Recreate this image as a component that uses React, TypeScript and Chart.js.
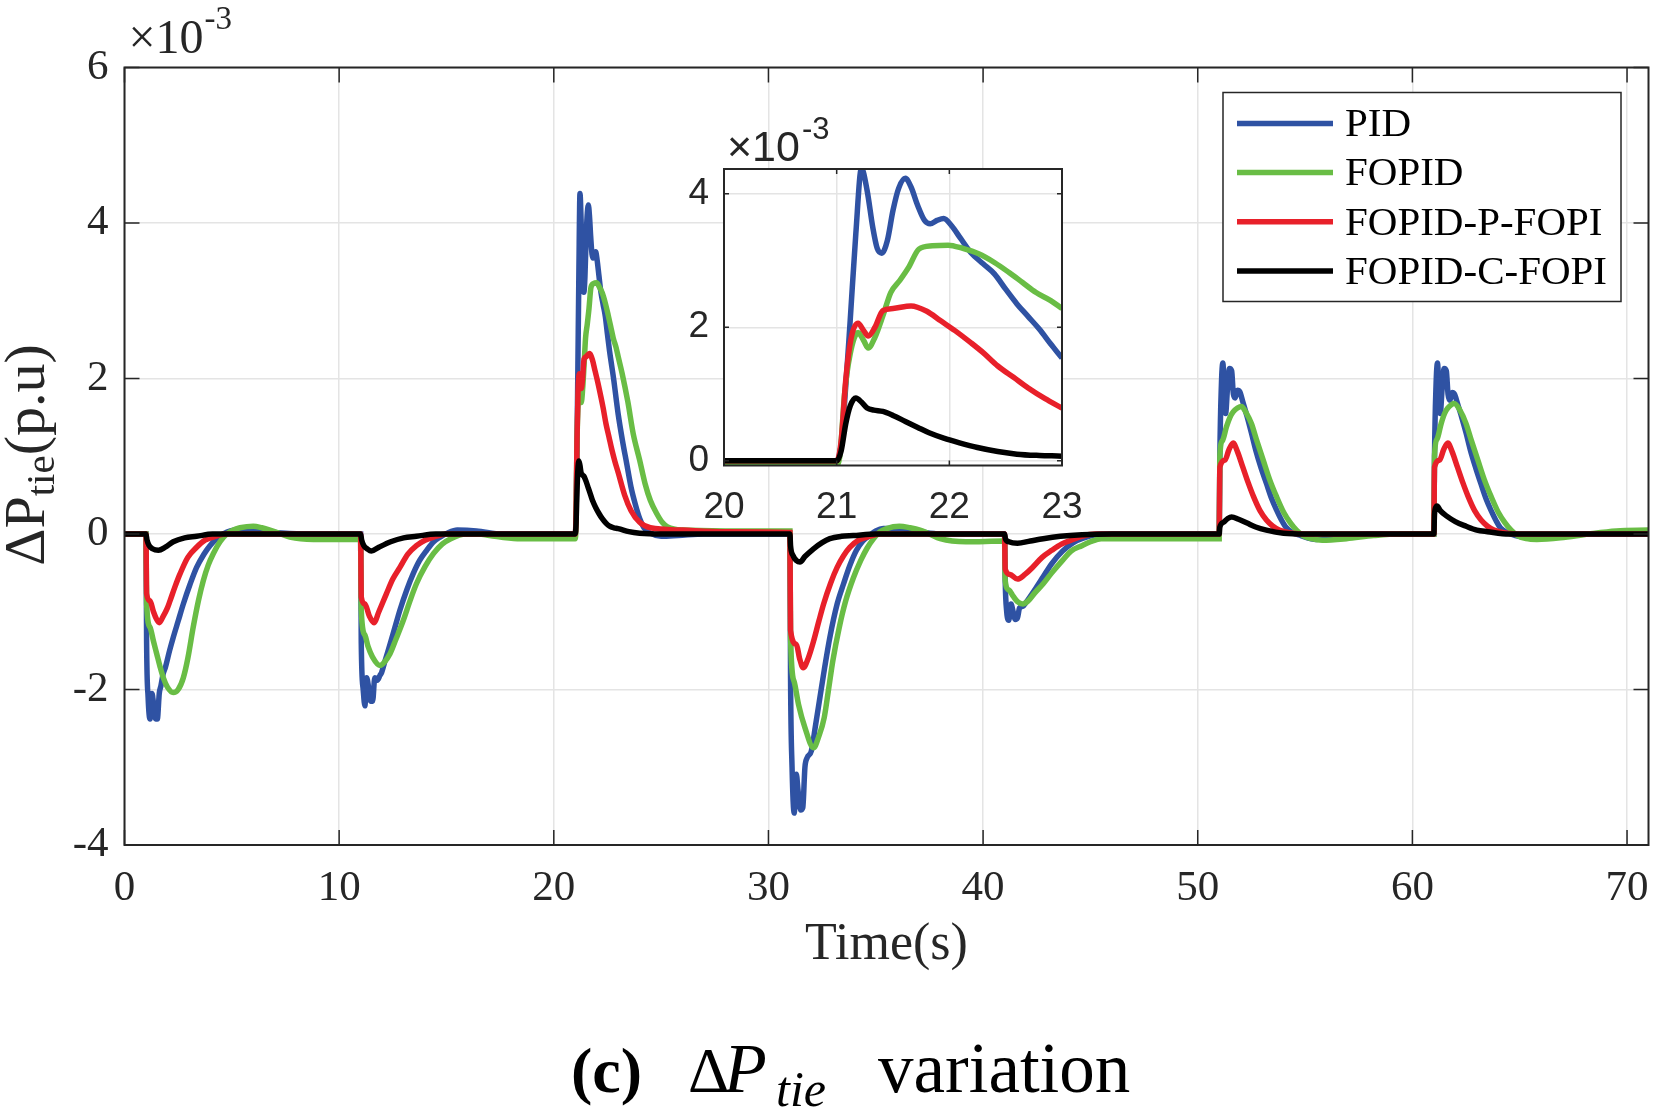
import React, { useEffect, useRef } from 'react';
import { Chart, registerables } from 'chart.js';

Chart.register(...registerables);

const W = 1654;
const H = 1112;

// ---------- data (values in units of 1e-3 p.u., time in s) ----------
const SERIES_LABELS = ['PID', 'FOPID', 'FOPID-P-FOPI', 'FOPID-C-FOPI'];
const SERIES_COLORS = ['#2F52A3', '#69BD45', '#E8202A', '#000000'];

const PID_DATA: [number, number][] = [
  [0, 0], [1.0, 0], [1.03, -1.4], [1.1, -2.1], [1.19, -2.38], [1.28, -2.05], [1.36, -2.2], [1.45, -2.38], [1.53, -2.38], [1.62, -2.05], [1.7, -1.95], [1.8, -1.8], [1.9, -1.72], [2.1, -1.5], [2.27, -1.33], [2.5, -1.12], [2.74, -0.9], [3.05, -0.65], [3.36, -0.43], [3.7, -0.26], [3.98, -0.15], [4.3, -0.06], [4.6, 0], [5.2, 0.05], [6.0, 0.04], [7.0, 0.02], [8.5, 0], [11.0, 0],
  [11.03, -1.4], [11.12, -2.0], [11.2, -2.21], [11.28, -1.85], [11.36, -1.95], [11.46, -2.15], [11.56, -2.15], [11.66, -1.85], [11.78, -1.88], [11.9, -1.82], [11.98, -1.78], [12.15, -1.62], [12.37, -1.42], [12.6, -1.2], [12.83, -0.98], [13.15, -0.72], [13.45, -0.51], [13.75, -0.34], [14.08, -0.21], [14.4, -0.1], [14.7, -0.04], [15.1, 0.02], [15.5, 0.05], [16.4, 0.04], [17.6, 0], [21.0, 0],
  [21.04, 0.25], [21.08, 1.1], [21.12, 2.1], [21.17, 3.4], [21.22, 4.38], [21.27, 4.05], [21.32, 3.5], [21.36, 3.18], [21.4, 3.11], [21.45, 3.3], [21.5, 3.75], [21.55, 4.08], [21.61, 4.23], [21.66, 4.1], [21.72, 3.82], [21.78, 3.6], [21.83, 3.55], [21.89, 3.6], [21.95, 3.63], [22.02, 3.52], [22.1, 3.33], [22.19, 3.12], [22.3, 2.95], [22.4, 2.8], [22.5, 2.57], [22.6, 2.35], [22.7, 2.16], [22.8, 1.97], [22.9, 1.75], [23.0, 1.54], [23.2, 1.2], [23.4, 0.9], [23.6, 0.6], [23.8, 0.38], [24.0, 0.2], [24.2, 0.08], [24.5, 0.01], [25.0, -0.03], [25.8, -0.02], [27.0, 0], [31.0, 0],
  [31.03, -1.85], [31.1, -3.0], [31.2, -3.59], [31.3, -3.09], [31.38, -3.3], [31.5, -3.55], [31.6, -3.52], [31.7, -3.0], [31.8, -2.88], [32.0, -2.79], [32.2, -2.45], [32.4, -2.1], [32.6, -1.75], [32.86, -1.33], [33.2, -0.9], [33.5, -0.64], [33.8, -0.4], [34.1, -0.21], [34.4, -0.09], [34.7, -0.02], [35.0, 0.04], [35.35, 0.07], [36.1, 0.07], [37.06, 0.03], [38.0, 0], [41.0, 0],
  [41.03, -0.6], [41.1, -1.0], [41.2, -1.11], [41.3, -0.9], [41.4, -1.0], [41.5, -1.1], [41.6, -1.08], [41.7, -0.95], [41.85, -0.93], [42.0, -0.88], [42.4, -0.72], [42.8, -0.55], [43.2, -0.38], [43.7, -0.22], [44.2, -0.11], [44.6, -0.06], [45.5, 0], [51.0, 0],
  [51.03, 1.0], [51.1, 1.9], [51.17, 2.2], [51.24, 1.8], [51.3, 1.55], [51.38, 1.85], [51.48, 2.13], [51.58, 2.1], [51.66, 1.8], [51.75, 1.75], [51.85, 1.85], [51.96, 1.83], [52.1, 1.7], [52.3, 1.51], [52.5, 1.3], [52.7, 1.08], [52.95, 0.85], [53.2, 0.65], [53.45, 0.45], [53.67, 0.31], [53.9, 0.18], [54.1, 0.09], [54.4, 0.02], [54.8, -0.02], [55.5, -0.07], [56.6, -0.04], [57.9, 0], [61.0, 0],
  [61.03, 1.0], [61.1, 1.9], [61.17, 2.2], [61.24, 1.8], [61.3, 1.55], [61.38, 1.85], [61.48, 2.13], [61.58, 2.1], [61.66, 1.8], [61.75, 1.72], [61.85, 1.82], [61.96, 1.8], [62.1, 1.68], [62.3, 1.5], [62.5, 1.3], [62.7, 1.08], [62.95, 0.85], [63.2, 0.64], [63.45, 0.44], [63.67, 0.3], [63.9, 0.17], [64.1, 0.08], [64.4, 0.02], [64.8, -0.02], [65.5, -0.05], [66.6, -0.03], [68.0, 0], [71.0, 0],
];

const FOPID_DATA: [number, number][] = [
  [0, 0], [1.0, 0], [1.03, -0.9], [1.19, -1.2], [1.35, -1.38], [1.5, -1.54], [1.65, -1.7], [1.81, -1.85], [2.0, -1.97], [2.27, -2.04], [2.5, -2.0], [2.74, -1.85], [2.95, -1.6], [3.2, -1.2], [3.45, -0.85], [3.67, -0.6], [3.9, -0.4], [4.14, -0.25], [4.45, -0.1], [4.76, 0], [5.05, 0.05], [5.38, 0.08], [6.0, 0.1], [6.4, 0.08], [6.78, 0.05], [7.2, 0.01], [7.7, -0.04], [8.8, -0.07], [11.0, -0.07],
  [11.03, -0.98], [11.2, -1.3], [11.35, -1.45], [11.55, -1.58], [11.9, -1.69], [12.1, -1.65], [12.37, -1.54], [12.65, -1.35], [12.99, -1.11], [13.3, -0.86], [13.6, -0.64], [14.0, -0.42], [14.4, -0.25], [14.8, -0.13], [15.2, -0.06], [15.9, 0], [16.5, 0], [17.0, -0.02], [18.3, -0.06], [21.0, -0.06],
  [21.03, 0.1], [21.07, 1.0], [21.12, 1.6], [21.19, 1.92], [21.24, 1.8], [21.28, 1.69], [21.34, 1.85], [21.41, 2.17], [21.48, 2.52], [21.56, 2.7], [21.64, 2.9], [21.73, 3.17], [21.85, 3.22], [21.99, 3.23], [22.12, 3.18], [22.26, 3.1], [22.4, 2.97], [22.53, 2.82], [22.65, 2.67], [22.77, 2.52], [22.9, 2.4], [23.0, 2.28], [23.18, 2.07], [23.45, 1.7], [23.7, 1.29], [24.0, 0.95], [24.25, 0.65], [24.5, 0.43], [24.8, 0.26], [25.05, 0.15], [25.3, 0.09], [26.0, 0.05], [28.0, 0.04], [31.0, 0.04],
  [31.03, -1.33], [31.2, -1.9], [31.4, -2.19], [31.7, -2.49], [32.1, -2.75], [32.35, -2.6], [32.6, -2.36], [32.8, -2.0], [33.0, -1.63], [33.3, -1.2], [33.6, -0.86], [33.95, -0.57], [34.3, -0.34], [34.6, -0.18], [34.9, -0.06], [35.2, 0.03], [35.5, 0.07], [36.1, 0.1], [36.6, 0.08], [37.06, 0.05], [37.5, 0], [38.0, -0.06], [39.2, -0.1], [41.0, -0.09],
  [41.03, -0.6], [41.2, -0.72], [41.4, -0.8], [41.6, -0.87], [41.85, -0.9], [42.1, -0.86], [42.4, -0.76], [42.8, -0.64], [43.2, -0.5], [43.7, -0.34], [44.1, -0.22], [44.6, -0.15], [45.0, -0.1], [45.5, -0.06], [51.0, -0.06],
  [51.03, 1.0], [51.15, 1.2], [51.34, 1.38], [51.5, 1.5], [51.65, 1.57], [51.85, 1.62], [52.04, 1.64], [52.25, 1.56], [52.5, 1.42], [52.75, 1.2], [53.05, 0.95], [53.35, 0.7], [53.67, 0.48], [54.0, 0.28], [54.3, 0.15], [54.6, 0.05], [54.9, -0.02], [55.3, -0.06], [55.8, -0.08], [56.93, -0.06], [58.2, -0.02], [59.4, 0], [61.0, 0],
  [61.03, 1.0], [61.15, 1.22], [61.34, 1.42], [61.5, 1.55], [61.65, 1.62], [61.95, 1.68], [62.2, 1.6], [62.5, 1.42], [62.75, 1.2], [63.05, 0.95], [63.35, 0.7], [63.67, 0.48], [64.0, 0.28], [64.3, 0.15], [64.6, 0.05], [64.9, -0.02], [65.3, -0.06], [65.8, -0.07], [66.9, -0.05], [68.2, 0], [69.5, 0.04], [71.0, 0.05],
];

const FOPID_P_FOPI_DATA: [number, number][] = [
  [0, 0], [1.0, 0], [1.03, -0.77], [1.19, -0.86], [1.35, -1.0], [1.5, -1.1], [1.62, -1.14], [1.8, -1.06], [2.0, -0.95], [2.12, -0.86], [2.35, -0.68], [2.59, -0.51], [2.95, -0.3], [3.36, -0.17], [3.75, -0.08], [4.14, -0.04], [4.7, 0], [11.0, 0],
  [11.03, -0.81], [11.2, -0.9], [11.4, -1.05], [11.62, -1.14], [11.85, -1.0], [12.2, -0.77], [12.5, -0.58], [12.83, -0.43], [13.2, -0.26], [13.6, -0.15], [14.0, -0.08], [14.4, -0.04], [15.0, 0], [21.0, 0],
  [21.04, 0.3], [21.08, 1.2], [21.13, 1.85], [21.19, 2.06], [21.24, 1.95], [21.28, 1.87], [21.34, 2.0], [21.41, 2.25], [21.5, 2.28], [21.66, 2.32], [21.8, 2.24], [21.92, 2.1], [22.05, 1.95], [22.19, 1.77], [22.3, 1.62], [22.43, 1.42], [22.57, 1.25], [22.7, 1.09], [22.85, 0.93], [23.0, 0.79], [23.3, 0.5], [23.6, 0.3], [24.0, 0.15], [24.5, 0.08], [26.0, 0.05], [28.0, 0.03], [31.0, 0.02],
  [31.03, -1.24], [31.3, -1.42], [31.45, -1.6], [31.62, -1.72], [31.85, -1.6], [32.1, -1.38], [32.35, -1.12], [32.57, -0.9], [32.9, -0.63], [33.2, -0.43], [33.5, -0.28], [33.8, -0.17], [34.2, -0.08], [34.6, -0.04], [35.2, 0], [41.0, 0],
  [41.03, -0.45], [41.25, -0.52], [41.6, -0.58], [41.95, -0.52], [42.3, -0.43], [42.75, -0.3], [43.2, -0.21], [43.65, -0.13], [44.1, -0.08], [44.6, -0.03], [45.2, 0], [51.0, 0],
  [51.03, 0.86], [51.27, 0.95], [51.45, 1.08], [51.65, 1.17], [51.85, 1.06], [52.1, 0.86], [52.35, 0.66], [52.6, 0.48], [52.9, 0.3], [53.2, 0.18], [53.5, 0.1], [53.8, 0.05], [54.4, 0.01], [55.0, 0], [61.0, 0],
  [61.03, 0.86], [61.27, 0.95], [61.45, 1.08], [61.65, 1.17], [61.85, 1.06], [62.1, 0.86], [62.35, 0.66], [62.6, 0.48], [62.9, 0.3], [63.2, 0.18], [63.5, 0.1], [63.8, 0.05], [64.4, 0.01], [65.0, 0], [71.0, 0],
];

const FOPID_C_FOPI_DATA: [number, number][] = [
  [0, 0], [1.0, 0], [1.05, -0.08], [1.15, -0.15], [1.3, -0.19], [1.58, -0.21], [1.9, -0.17], [2.27, -0.1], [2.8, -0.05], [3.36, -0.03], [4.1, 0], [11.0, 0],
  [11.05, -0.08], [11.15, -0.15], [11.3, -0.19], [11.5, -0.22], [11.85, -0.17], [12.4, -0.1], [13.0, -0.05], [13.6, -0.03], [14.5, 0], [21.0, 0],
  [21.04, 0.15], [21.08, 0.55], [21.12, 0.82], [21.17, 0.94], [21.22, 0.88], [21.27, 0.79], [21.33, 0.76], [21.41, 0.74], [21.5, 0.68], [21.61, 0.59], [21.72, 0.5], [21.82, 0.42], [21.95, 0.34], [22.09, 0.27], [22.25, 0.2], [22.43, 0.14], [22.6, 0.1], [22.8, 0.08], [23.0, 0.07], [23.5, 0.03], [24.0, 0.01], [25.0, 0], [31.0, 0],
  [31.03, -0.15], [31.15, -0.28], [31.3, -0.34], [31.47, -0.36], [31.7, -0.29], [32.1, -0.19], [32.5, -0.11], [32.86, -0.06], [33.4, -0.03], [33.95, -0.02], [35.0, 0], [41.0, 0],
  [41.04, -0.06], [41.2, -0.1], [41.6, -0.12], [42.2, -0.09], [42.8, -0.06], [43.6, -0.03], [44.6, -0.01], [46.0, 0], [51.0, 0],
  [51.03, 0.09], [51.2, 0.15], [51.4, 0.2], [51.58, 0.22], [51.9, 0.19], [52.3, 0.14], [52.7, 0.09], [53.2, 0.05], [54.0, 0.01], [55.0, 0], [61.0, 0],
  [61.03, 0.25], [61.1, 0.35], [61.15, 0.36], [61.3, 0.3], [61.6, 0.23], [62.0, 0.16], [62.5, 0.1], [63.0, 0.05], [63.5, 0.03], [64.5, 0], [71.0, 0],
];

const SERIES_DATA = [PID_DATA, FOPID_DATA, FOPID_P_FOPI_DATA, FOPID_C_FOPI_DATA];

const X_TICKS = [0, 10, 20, 30, 40, 50, 60, 70];
const Y_TICKS = [-4, -2, 0, 2, 4, 6];
const X_RANGE = [0, 71];
const Y_RANGE = [-4, 6];

const INSET_X_TICKS = [20, 21, 22, 23];
const INSET_Y_TICKS = [0, 2, 4];
const INSET_X_RANGE = [20, 23];
const INSET_Y_RANGE = [-0.07, 4.37];

// ---------- styling ----------
const AXIS_COLOR = '#262626';
const GRID_COLOR = '#E4E4E4';
const SERIF = '"Liberation Serif", "Times New Roman", serif';
const SANS = '"Liberation Sans", Arial, sans-serif';

const fixTicks = (vals: number[]) => (s: any) => {
  s.ticks = vals.map((v) => ({ value: v }));
};

function drawInwardTicks(ctx: CanvasRenderingContext2D, chart: any, xt: number[], yt: number[], len: number) {
  const a = chart.chartArea;
  const xs = chart.scales.x;
  const ys = chart.scales.y;
  ctx.beginPath();
  xt.forEach((v) => {
    const p = xs.getPixelForValue(v);
    ctx.moveTo(p, a.bottom);
    ctx.lineTo(p, a.bottom - len);
    ctx.moveTo(p, a.top);
    ctx.lineTo(p, a.top + len);
  });
  yt.forEach((v) => {
    const p = ys.getPixelForValue(v);
    ctx.moveTo(a.left, p);
    ctx.lineTo(a.left + len, p);
    ctx.moveTo(a.right, p);
    ctx.lineTo(a.right - len, p);
  });
  ctx.stroke();
}

const mainDecor = {
  id: 'mainDecor',
  afterDatasetsDraw(chart: any) {
    const ctx: CanvasRenderingContext2D = chart.ctx;
    const a = chart.chartArea;
    ctx.save();
    ctx.strokeStyle = AXIS_COLOR;
    ctx.lineWidth = 1.5;
    drawInwardTicks(ctx, chart, X_TICKS, Y_TICKS, 15);
    ctx.lineWidth = 2;
    ctx.strokeRect(a.left, a.top, a.right - a.left, a.bottom - a.top);
    ctx.restore();
  },
  afterDraw(chart: any) {
    const ctx: CanvasRenderingContext2D = chart.ctx;
    const a = chart.chartArea;
    ctx.save();
    ctx.fillStyle = AXIS_COLOR;
    ctx.textAlign = 'left';
    ctx.textBaseline = 'alphabetic';

    // exponent label
    ctx.font = `48px ${SERIF}`;
    ctx.fillText('\u00D710', a.left + 4, 53);
    const ew = ctx.measureText('\u00D710').width;
    ctx.font = `33px ${SERIF}`;
    ctx.fillText('-3', a.left + 4 + ew + 1, 29);

    // x axis title
    ctx.font = `52px ${SERIF}`;
    ctx.textAlign = 'center';
    ctx.fillText('Time(s)', (a.left + a.right) / 2, 959);

    // y axis title (rotated)
    ctx.save();
    ctx.translate(44, 455);
    ctx.rotate(-Math.PI / 2);
    ctx.textAlign = 'left';
    const big = `58px ${SERIF}`;
    const small = `41px ${SERIF}`;
    ctx.font = big;
    const w1 = ctx.measureText('\u0394P').width;
    const w3 = ctx.measureText('(p.u)').width;
    ctx.font = small;
    const w2 = ctx.measureText('tie').width;
    let x = -(w1 + w2 + w3) / 2;
    ctx.font = big;
    ctx.fillText('\u0394P', x, 0);
    x += w1;
    ctx.font = small;
    ctx.fillText('tie', x, 10);
    x += w2;
    ctx.font = big;
    ctx.fillText('(p.u)', x, 0);
    ctx.restore();

    // legend
    const lx = 1223, ly = 92.5, lw = 398, lh = 209;
    ctx.fillStyle = '#FFFFFF';
    ctx.fillRect(lx, ly, lw, lh);
    ctx.strokeStyle = AXIS_COLOR;
    ctx.lineWidth = 1.5;
    ctx.strokeRect(lx, ly, lw, lh);
    const rows = [123.5, 172.5, 221.8, 271];
    ctx.font = `41px ${SERIF}`;
    ctx.textAlign = 'left';
    ctx.textBaseline = 'middle';
    SERIES_LABELS.forEach((lab, i) => {
      ctx.strokeStyle = SERIES_COLORS[i];
      ctx.lineWidth = 5.5;
      ctx.beginPath();
      ctx.moveTo(1237, rows[i]);
      ctx.lineTo(1333, rows[i]);
      ctx.stroke();
      ctx.fillStyle = '#000000';
      ctx.fillText(lab, 1345, rows[i] + 2);
    });

    // caption
    ctx.textBaseline = 'alphabetic';
    ctx.fillStyle = '#000000';
    ctx.font = `bold 64px ${SERIF}`;
    ctx.fillText('(c)', 571, 1092);
    ctx.font = `64px ${SERIF}`;
    ctx.fillText('\u0394', 688, 1092);
    ctx.font = `italic 70px ${SERIF}`;
    ctx.fillText('P', 724, 1092);
    ctx.font = `italic 50px ${SERIF}`;
    ctx.fillText('tie', 776, 1106);
    ctx.font = `71px ${SERIF}`;
    ctx.fillText('variation', 878, 1092);
    ctx.restore();
  },
};

const insetDecor = {
  id: 'insetDecor',
  beforeDraw(chart: any) {
    const ctx: CanvasRenderingContext2D = chart.ctx;
    const a = chart.chartArea;
    ctx.save();
    ctx.fillStyle = '#FFFFFF';
    ctx.fillRect(a.left, a.top, a.right - a.left, a.bottom - a.top);
    ctx.restore();
  },
  afterDraw(chart: any) {
    const ctx: CanvasRenderingContext2D = chart.ctx;
    const a = chart.chartArea;
    ctx.save();
    ctx.strokeStyle = AXIS_COLOR;
    ctx.lineWidth = 1.5;
    drawInwardTicks(ctx, chart, INSET_X_TICKS, INSET_Y_TICKS, 5);
    ctx.lineWidth = 2;
    ctx.strokeRect(a.left, a.top, a.right - a.left, a.bottom - a.top);
    ctx.fillStyle = AXIS_COLOR;
    ctx.textAlign = 'left';
    ctx.textBaseline = 'alphabetic';
    ctx.font = `43px ${SANS}`;
    ctx.fillText('\u00D710', a.left + 3, 161);
    const ew = ctx.measureText('\u00D710').width;
    ctx.font = `31px ${SANS}`;
    ctx.fillText('-3', a.left + 3 + ew + 2, 139);
    ctx.restore();
  },
};

function makeDatasets(width: number) {
  return SERIES_DATA.map((d, i) => ({
    label: SERIES_LABELS[i],
    data: d,
    borderColor: SERIES_COLORS[i],
    backgroundColor: SERIES_COLORS[i],
    borderWidth: width,
    pointRadius: 0,
    fill: false,
    cubicInterpolationMode: 'monotone' as const,
    order: SERIES_DATA.length - i,
    clip: 0,
  }));
}

function axisOpts(kind: 'x' | 'y', range: number[], ticks: number[], font: any, padding: number, size: number) {
  return {
    type: 'linear' as const,
    min: range[0],
    max: range[1],
    afterBuildTicks: fixTicks(ticks),
    afterFit: (s: any) => {
      if (kind === 'x') {
        s.height = size;
        s.paddingLeft = 0;
        s.paddingRight = 0;
      } else {
        s.width = size;
        s.paddingTop = 0;
        s.paddingBottom = 0;
      }
    },
    grid: { color: GRID_COLOR, lineWidth: 1.5, drawTicks: false },
    border: { display: false },
    ticks: {
      font,
      color: AXIS_COLOR,
      padding,
      maxRotation: 0,
      minRotation: 0,
      autoSkip: false,
      callback: (v: any) => String(v),
    },
  };
}

// plot-box placement (pixels)
const MAIN_BOX = { left: 124.5, top: 67.5, right: 1648.5, bottom: 845 };
const INSET_BOX = { left: 724, top: 169, right: 1062, bottom: 465.5 };

export default function App() {
  const mainRef = useRef<HTMLCanvasElement>(null);
  const insetRef = useRef<HTMLCanvasElement>(null);

  useEffect(() => {
    const main = new Chart(mainRef.current as HTMLCanvasElement, {
      type: 'line',
      data: { datasets: makeDatasets(5.5) as any },
      options: {
        animation: false,
        responsive: false,
        devicePixelRatio: 1,
        events: [],
        layout: { padding: { left: 0, top: MAIN_BOX.top, right: W - MAIN_BOX.right, bottom: 0 }, autoPadding: false } as any,
        plugins: { legend: { display: false }, tooltip: { enabled: false } },
        scales: {
          x: axisOpts('x', X_RANGE, X_TICKS, { family: SERIF, size: 43 }, 18, H - MAIN_BOX.bottom) as any,
          y: axisOpts('y', Y_RANGE, Y_TICKS, { family: SERIF, size: 43 }, 16, MAIN_BOX.left) as any,
        },
      },
      plugins: [mainDecor],
    });

    const inset = new Chart(insetRef.current as HTMLCanvasElement, {
      type: 'line',
      data: { datasets: makeDatasets(5.5) as any },
      options: {
        animation: false,
        responsive: false,
        devicePixelRatio: 1,
        events: [],
        layout: { padding: { left: 0, top: INSET_BOX.top, right: W - INSET_BOX.right, bottom: 0 }, autoPadding: false } as any,
        plugins: { legend: { display: false }, tooltip: { enabled: false } },
        scales: {
          x: axisOpts('x', INSET_X_RANGE, INSET_X_TICKS, { family: SANS, size: 37 }, 20, H - INSET_BOX.bottom) as any,
          y: axisOpts('y', INSET_Y_RANGE, INSET_Y_TICKS, { family: SANS, size: 37 }, 15, INSET_BOX.left) as any,
        },
      },
      plugins: [insetDecor],
    });

    return () => {
      main.destroy();
      inset.destroy();
    };
  }, []);

  return (
    <div style={{ position: 'absolute', left: 0, top: 0, width: W, height: H, background: '#FFFFFF' }}>
      <canvas ref={mainRef} width={W} height={H} style={{ position: 'absolute', left: 0, top: 0, width: W, height: H }} />
      <canvas ref={insetRef} width={W} height={H} style={{ position: 'absolute', left: 0, top: 0, width: W, height: H, pointerEvents: 'none' }} />
    </div>
  );
}
